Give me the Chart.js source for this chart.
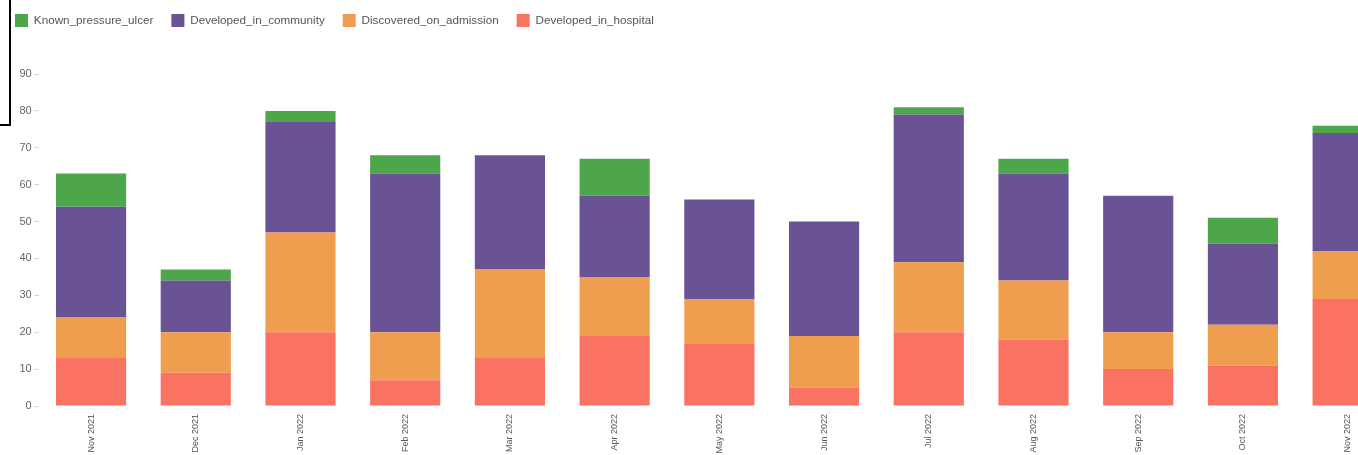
<!DOCTYPE html>
<html>
<head>
<meta charset="utf-8">
<script src="https://cdn.jsdelivr.net/npm/chart.js@4/dist/chart.umd.min.js"></script>
<style>
  html, body { margin: 0; padding: 0; background: #fff; overflow: hidden; }
  #wrap { position: relative; width: 1400px; height: 455px; }
  #frame { position: absolute; left: 0; top: 0; width: 9px; height: 124px;
           border-right: 2px solid #000; border-bottom: 2px solid #000; z-index: 2; }
</style>
</head>
<body>
<div id="wrap">
  <div id="frame"></div>
  <canvas id="chart" width="1400" height="455"></canvas>
</div>
<script>
// Monthly pressure ulcer counts, stacked by origin
const categories = ['Nov 2021', 'Dec 2021', 'Jan 2022', 'Feb 2022', 'Mar 2022', 'Apr 2022',
                    'May 2022', 'Jun 2022', 'Jul 2022', 'Aug 2022', 'Sep 2022', 'Oct 2022', 'Nov 2022'];
const developedInHospital   = [13, 9, 20, 7, 13, 19, 17, 5, 20, 18, 10, 11, 29];
const discoveredOnAdmission = [11, 11, 27, 13, 24, 16, 12, 14, 19, 16, 10, 11, 13];
const developedInCommunity  = [30, 14, 30, 43, 31, 22, 27, 31, 40, 29, 37, 22, 32];
const knownPressureUlcer    = [9, 3, 3, 5, 0, 10, 0, 0, 2, 4, 0, 7, 2];
const yTicks = [0, 10, 20, 30, 40, 50, 60, 70, 80, 90];

const COLORS = {
  hospital: '#fa7262',
  admission: '#ef9e4f',
  community: '#695394',
  known: '#4ea64b'
};

// extra room below the legend before the plot area
const legendSpacer = {
  id: 'legendSpacer',
  beforeInit(chart) {
    const baseFit = chart.legend.fit;
    chart.legend.fit = function () {
      baseFit.call(this);
      this.height = 78;
    };
  }
};

new Chart(document.getElementById('chart'), {
  type: 'bar',
  data: {
    labels: categories,
    datasets: [
      { label: 'Developed_in_hospital', data: developedInHospital, backgroundColor: COLORS.hospital },
      { label: 'Discovered_on_admission', data: discoveredOnAdmission, backgroundColor: COLORS.admission },
      { label: 'Developed_in_community', data: developedInCommunity, backgroundColor: COLORS.community },
      { label: 'Known_pressure_ulcer', data: knownPressureUlcer, backgroundColor: COLORS.known }
    ]
  },
  options: {
    responsive: false,
    animation: false,
    devicePixelRatio: 1,
    layout: { padding: { top: -4, left: -3, right: 0, bottom: 0 } },
    datasets: { bar: { barPercentage: 0.67, categoryPercentage: 1, borderWidth: 0 } },
    plugins: {
      legend: {
        position: 'top',
        align: 'start',
        reverse: true,
        labels: {
          boxWidth: 13,
          boxHeight: 13,
          padding: 18,
          color: '#555',
          font: { family: 'Liberation Sans, Arial, sans-serif', size: 11.7 }
        }
      },
      tooltip: { enabled: false }
    },
    scales: {
      x: {
        stacked: true,
        grid: { display: false, drawTicks: false },
        border: { display: false },
        ticks: {
          autoSkip: false,
          minRotation: 90,
          maxRotation: 90,
          padding: 8,
          color: '#555',
          font: { family: 'Liberation Sans, Arial, sans-serif', size: 9 }
        },
        afterFit(scale) { scale.height = 49; }
      },
      y: {
        stacked: true,
        min: 0,
        max: 90,
        grid: { display: true, drawOnChartArea: false, drawTicks: true, tickLength: 4, color: '#d0d0d0' },
        border: { display: false },
        afterBuildTicks(scale) { scale.ticks = yTicks.map(v => ({ value: v })); },
        ticks: {
          padding: 3,
          color: '#666',
          font: { family: 'Liberation Sans, Arial, sans-serif', size: 11 }
        },
        afterFit(scale) { scale.width = 41.7; }
      }
    }
  },
  plugins: [legendSpacer]
});
</script>
</body>
</html>
